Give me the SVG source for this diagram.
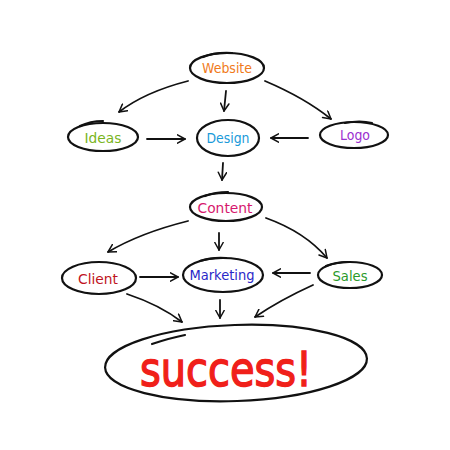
<svg xmlns="http://www.w3.org/2000/svg" width="450" height="450" viewBox="0 0 450 450">
<style>
.node{fill:none;stroke:#111;stroke-width:2.2;stroke-linecap:round}
.edge{fill:none;stroke:#111;stroke-width:1.8;stroke-linecap:round}
.lbl{font-family:"DejaVu Sans","Liberation Sans",sans-serif;font-size:14px;text-anchor:middle}
</style>
<defs>
<marker id="ah" viewBox="0 0 12 12" refX="10" refY="6" markerWidth="10" markerHeight="10" markerUnits="userSpaceOnUse" orient="auto">
<path d="M1,1 L10,6 L1,11" fill="none" stroke="#111" stroke-width="1.8" stroke-linecap="round" stroke-linejoin="round"/>
</marker>
</defs>
<rect width="450" height="450" fill="#fff"/>
<g id="connectors">
<path class="edge" d="M188,81 Q145,92 119,112" marker-end="url(#ah)"/>
<path class="edge" d="M226,91 L224,111" marker-end="url(#ah)"/>
<path class="edge" d="M265,81 Q305,98 331,119" marker-end="url(#ah)"/>
<path class="edge" d="M147,139 L185,139" marker-end="url(#ah)"/>
<path class="edge" d="M308,138 L271,138" marker-end="url(#ah)"/>
<path class="edge" d="M223,163 L222,180" marker-end="url(#ah)"/>
<path class="edge" d="M188,221 Q140,233 108,252" marker-end="url(#ah)"/>
<path class="edge" d="M219,233 L219,250" marker-end="url(#ah)"/>
<path class="edge" d="M266,218 Q305,232 327,258" marker-end="url(#ah)"/>
<path class="edge" d="M140,277 L178,277" marker-end="url(#ah)"/>
<path class="edge" d="M310,273 L273,273" marker-end="url(#ah)"/>
<path class="edge" d="M127,294 Q160,305 182,322" marker-end="url(#ah)"/>
<path class="edge" d="M220,300 L220,318" marker-end="url(#ah)"/>
<path class="edge" d="M313,285 Q280,300 255,317" marker-end="url(#ah)"/>
</g>
<g id="website">
<ellipse class="node" cx="227" cy="68" rx="37" ry="15"/>
<path class="node" d="M203,57 Q215,52 232,53"/>
<text class="lbl" x="227" y="73" fill="#f07a1a" textLength="50" lengthAdjust="spacingAndGlyphs">Website</text>
</g>
<g id="ideas">
<ellipse class="node" cx="103" cy="137" rx="35" ry="14"/>
<path class="node" d="M80,126 Q90,121 103,121"/>
<text class="lbl" x="103" y="143" fill="#7ab51d" textLength="37" lengthAdjust="spacingAndGlyphs">Ideas</text>
</g>
<g id="design">
<ellipse class="node" cx="228" cy="138" rx="31" ry="18"/>
<text class="lbl" x="228" y="143" fill="#1a9ad9" textLength="43" lengthAdjust="spacingAndGlyphs">Design</text>
</g>
<g id="logo">
<ellipse class="node" cx="354" cy="135" rx="34" ry="13"/>
<path class="node" d="M345,123 Q360,120 372,123"/>
<text class="lbl" x="355" y="140" fill="#9b30d0" textLength="30" lengthAdjust="spacingAndGlyphs">Logo</text>
</g>
<g id="content">
<ellipse class="node" cx="226" cy="207" rx="36" ry="14"/>
<path class="node" d="M205,196 Q215,192 228,192"/>
<text class="lbl" x="225" y="213" fill="#d6186e" textLength="55" lengthAdjust="spacingAndGlyphs">Content</text>
</g>
<g id="client">
<ellipse class="node" cx="99" cy="278" rx="37" ry="16"/>
<text class="lbl" x="98" y="284" fill="#c0141e" textLength="40" lengthAdjust="spacingAndGlyphs">Client</text>
</g>
<g id="marketing">
<ellipse class="node" cx="223" cy="275" rx="40" ry="17"/>
<path class="node" d="M200,261 Q212,257 226,258"/>
<text class="lbl" x="222" y="280" fill="#2a28c8" textLength="65" lengthAdjust="spacingAndGlyphs">Marketing</text>
</g>
<g id="sales">
<ellipse class="node" cx="350" cy="275" rx="32" ry="13"/>
<path class="node" d="M326,266 Q336,262 348,262"/>
<text class="lbl" x="350" y="281" fill="#2a9a2a" textLength="35" lengthAdjust="spacingAndGlyphs">Sales</text>
</g>
<g id="success">
<ellipse class="node" cx="236" cy="363" rx="131" ry="38" transform="rotate(-2 236 363)"/>
<path class="node" d="M152,344 Q170,338 185,335"/>
<text x="226" y="386" font-family="DejaVu Sans,Liberation Sans,sans-serif" font-size="48" fill="#f0201a" stroke="#f0201a" stroke-width="1.5" text-anchor="middle" textLength="172" lengthAdjust="spacingAndGlyphs">success!</text>
</g>
</svg>
